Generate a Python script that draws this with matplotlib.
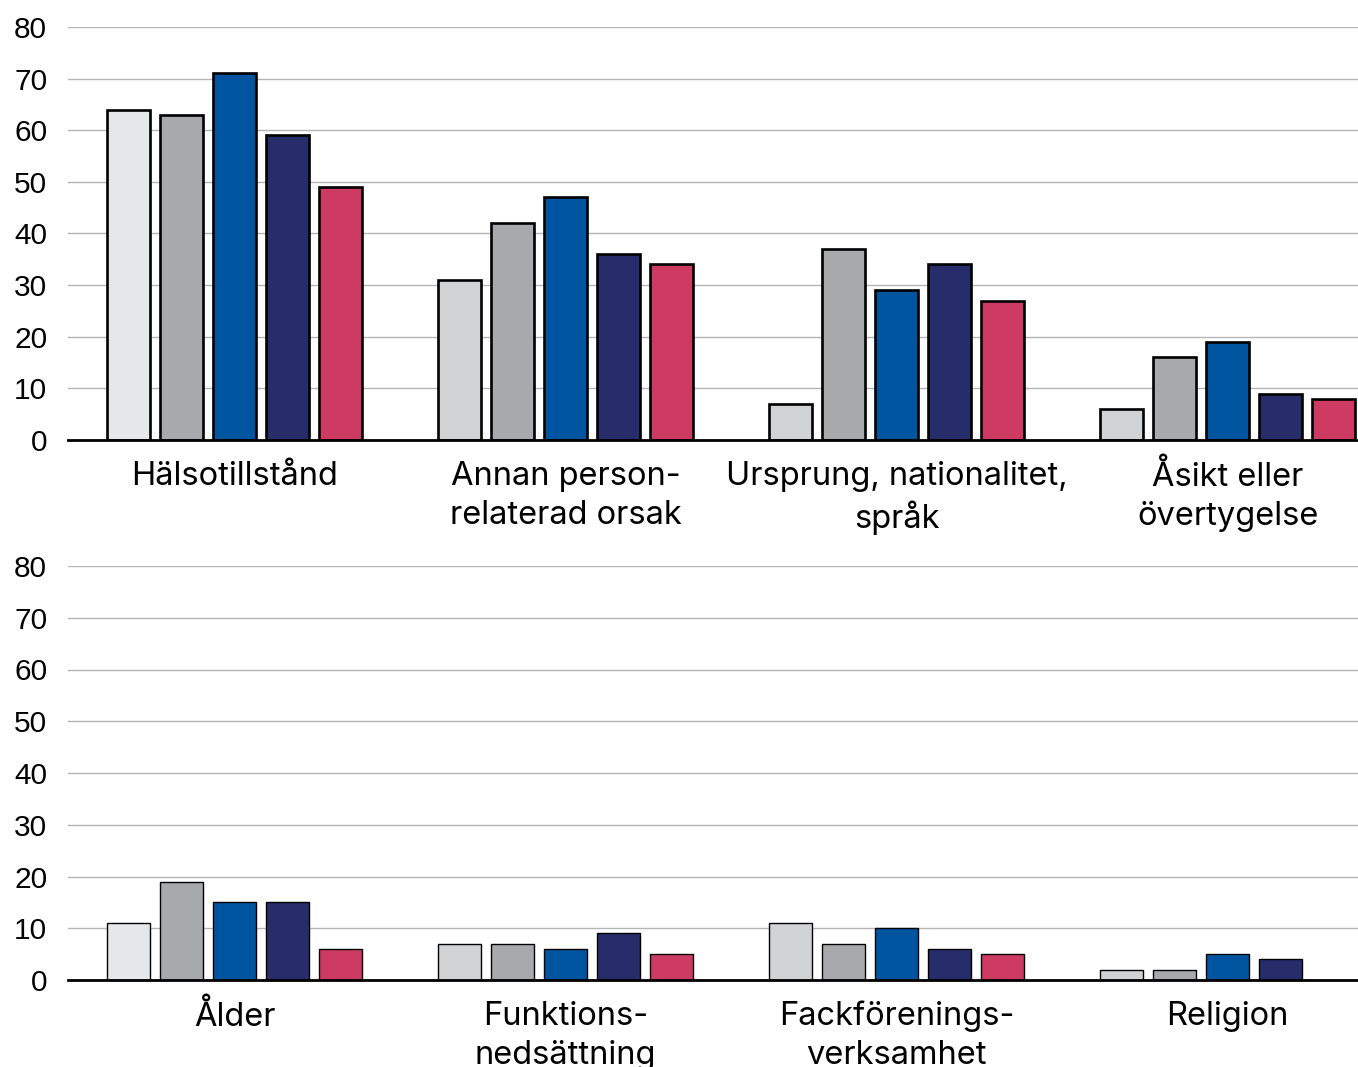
import matplotlib.pyplot as plt
import numpy as np

# data
top_groups = ['Hälsotillstånd', 'Annan person-\nrelaterad orsak', 'Ursprung, nationalitet,\nspråk', 'Åsikt eller\növertygelse']
top_values = [
    [64, 31, 7, 6],
    [63, 42, 37, 16],
    [71, 47, 29, 19],
    [59, 36, 34, 9],
    [49, 34, 27, 8],
]
bottom_groups = ['Ålder', 'Funktions-\nnedsättning', 'Fackförenings-\nverksamhet', 'Religion']
bottom_values = [
    [11, 7, 11, 2],
    [19, 7, 7, 2],
    [15, 6, 10, 5],
    [15, 9, 6, 4],
    [6, 5, 5, np.nan],
]

first_colors = ['#e6e7e8', '#d1d2d4', '#d1d2d4', '#d1d2d4']
series_colors = ['#a7a9ac', '#0055a0', '#262d6a', '#cd3b63']

fig = plt.figure(figsize=(13.58, 10.67), dpi=100)
ax_top = fig.add_axes([68/1358, 1 - 440/1067, 1 - 68/1358, 413/1067])
ax_bot = fig.add_axes([68/1358, 1 - 980/1067, 1 - 68/1358, 414/1067])

step = 53/331
width = 43/331


def draw(ax, groups, values, lw):
    x = np.arange(len(groups))
    for k, vals in enumerate(values):
        if k == 0:
            cols = first_colors
        else:
            cols = [series_colors[k-1]] * len(groups)
        ax.bar(x + (k - 2) * step, vals, width, color=cols,
               edgecolor='black', linewidth=lw, zorder=3)
    ax.set_xlim(-0.503, 3.394)
    ax.set_ylim(0, 80)
    ax.set_yticks(range(0, 81, 10))
    ax.yaxis.grid(True, color='#b5b5b5', linewidth=1.0, zorder=0)
    ax.set_axisbelow(True)
    for s in ['top', 'right', 'left']:
        ax.spines[s].set_visible(False)
    ax.spines['bottom'].set_linewidth(2)
    ax.spines['bottom'].set_zorder(4)
    ax.tick_params(axis='y', length=0, pad=15, labelsize=21.5)
    for lab in ax.get_yticklabels():
        lab.set_fontfamily('Liberation Sans')
    ax.set_xticks(x)
    ax.set_xticklabels(groups, fontsize=23.5, fontfamily='Inter', linespacing=1.32)
    ax.tick_params(axis='x', length=0, pad=15)


draw(ax_top, top_groups, top_values, 1.9)
draw(ax_bot, bottom_groups, bottom_values, 1.0)

fig.savefig('out.png', dpi=100)
